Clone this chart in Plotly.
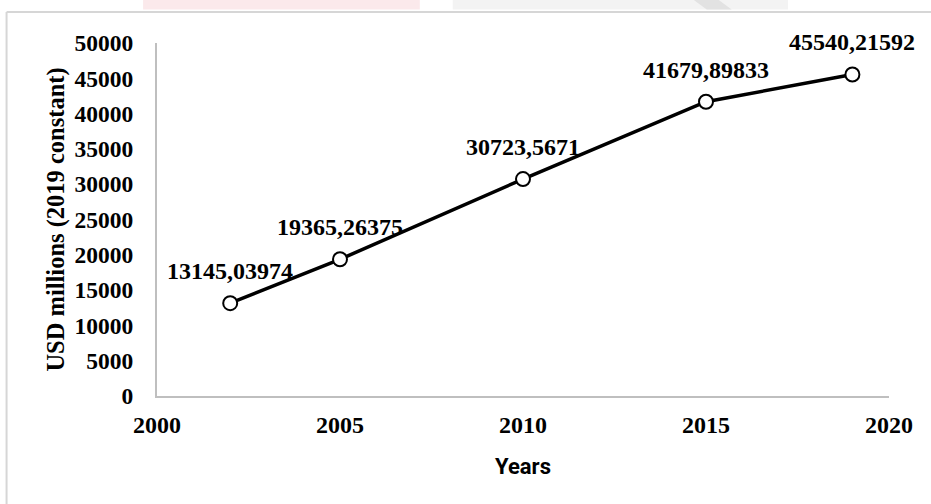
import plotly.graph_objects as go

# Series: spending in USD millions (2019 constant prices)
years = [2002, 2005, 2010, 2015, 2019]
values = [13145.03974, 19365.26375, 30723.5671, 41679.89833, 45540.21592]
value_labels = ["13145,03974", "19365,26375", "30723,5671", "41679,89833", "45540,21592"]

x_ticks = [2000, 2005, 2010, 2015, 2020]
y_ticks = list(range(0, 50001, 5000))
y_tick_text = [str(v) for v in y_ticks]

serif_bold = dict(family="Liberation Serif, Times New Roman, serif", color="black", weight="bold")

fig = go.Figure()
fig.add_trace(go.Scatter(
    x=years,
    y=values,
    mode="lines+markers",
    line=dict(color="black", width=3.5),
    marker=dict(size=14, color="white", line=dict(color="black", width=2)),
    hoverinfo="x+y",
    showlegend=False,
))

# Value labels above each point
for xv, yv, lab in zip(years, values, value_labels):
    fig.add_annotation(
        x=xv, y=yv, text=lab, showarrow=False,
        xanchor="center", yanchor="middle", yshift=32,
        font=dict(size=24, **serif_bold),
    )

# Outer chart frame (left and top edges) and faint header strip
frame = dict(color="#d6d6d6", width=2)
fig.add_shape(type="line", xref="paper", yref="paper",
              x0=-0.2055, x1=-0.2055, y0=1.088, y1=-0.35, line=frame, layer="below")
fig.add_shape(type="line", xref="paper", yref="paper",
              x0=-0.2055, x1=1.1, y0=1.088, y1=1.088, line=frame, layer="below")
fig.add_shape(type="rect", xref="paper", yref="paper",
              x0=-0.019, x1=0.359, y0=1.095, y1=1.13,
              fillcolor="#fbe9eb", line=dict(width=0), layer="below")
fig.add_shape(type="rect", xref="paper", yref="paper",
              x0=0.404, x1=0.862, y0=1.095, y1=1.13,
              fillcolor="#f3f3f3", line=dict(width=0), layer="below")
fig.add_shape(type="path", xref="paper", yref="paper",
              path="M 0.728 1.13 L 0.762 1.13 L 0.785 1.095 L 0.751 1.095 Z",
              fillcolor="#e2e2e2", line=dict(width=0), layer="below")

fig.update_layout(
    width=931, height=504,
    margin=dict(l=157, r=42, t=43, b=108),
    paper_bgcolor="white",
    plot_bgcolor="white",
    xaxis=dict(
        range=[2000, 2020],
        tickvals=x_ticks,
        ticktext=[str(v) for v in x_ticks],
        showgrid=False, zeroline=False,
        showline=True, linecolor="#bfbfbf", linewidth=2,
        ticks="", ticklabelstandoff=6,
        tickfont=dict(size=24, **serif_bold),
        title=dict(text="Years", standoff=22,
                   font=dict(family="Roboto, Arial, sans-serif", size=22,
                             color="black", weight="bold")),
    ),
    yaxis=dict(
        range=[0, 50000],
        tickvals=y_ticks,
        ticktext=y_tick_text,
        showgrid=False, zeroline=False,
        showline=True, linecolor="#bfbfbf", linewidth=2,
        ticks="", ticklabelstandoff=17,
        tickfont=dict(size=23.5, **serif_bold),
        title=dict(text="USD millions (2019 constant)", standoff=3,
                   font=dict(size=24.5, **serif_bold)),
    ),
)

fig.write_html("out.html")
